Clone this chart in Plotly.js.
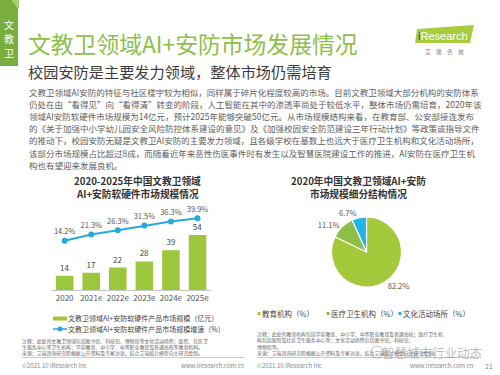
<!DOCTYPE html>
<html><head><meta charset="utf-8">
<script src="https://cdn.plot.ly/plotly-3.0.1.min.js"></script>
<style>html,body{margin:0;padding:0;background:#fff}#chart{width:500px;height:375px}</style>
</head><body><div id="chart"></div><script>
// ---- data ----
const years = ['2020','2021e','2022e','2023e','2024e','2025e'];
const marketSize = [14,17,22,28,39,54];
const growthRate = [14.2,21.3,26.3,31.5,36.3,39.9];
const barSeriesName = '文教卫领域AI+安防软硬件产品市场规模（亿元）';
const lineSeriesName = '文教卫领域AI+安防软硬件产品市场规模增速（%）';
const pieLabels = ['教育机构（%）','医疗卫生机构（%）','文化活动场所（%）'];
const pieValues = [82.2,11.1,6.7];

// ---- texts ----
const sideTab = ['文','教','卫'];
const mainTitle = '文教卫领域AI+安防市场发展情况';
const subTitle = '校园安防是主要发力领域，整体市场仍需培育';
const paragraph = [
 '文教卫领域AI安防的特征与社区楼宇较为相似，同样属于碎片化程度较高的市场。目前文教卫领域大部分机构的安防体系',
 '仍处在由“看得见”向“看得清”转变的阶段，人工智能在其中的渗透率尚处于较低水平，整体市场仍需培育，2020年该',
 '领域AI安防软硬件市场规模为14亿元，预计2025年能够突破50亿元。从市场规模结构来看，在教育部、公安部接连发布',
 '的《关于加强中小学幼儿园安全风险防控体系建设的意见》及《加强校园安全防范建设三年行动计划》等政策或指导文件',
 '的推动下，校园安防无疑是文教卫AI安防的主要发力领域，且各级学校在基数上也远大于医疗卫生机构和文化活动场所，',
 '该部分市场规模占比超过8成，而随着近年来恶性伤医事件时有发生以及智慧医院建设工作的推进，AI安防在医疗卫生机',
 '构也有望迎来发展良机。'
];
const leftChartTitle = ['2020-2025年中国文教卫领域','AI+安防软硬件市场规模情况'];
const rightChartTitle = ['2020年中国文教卫领域AI+安防','市场规模细分结构情况'];
const leftNotes = [
 '注释：此处的文教卫领域包括图书馆、科技馆、博物馆等文化活动场所；医院、社区卫',
 '生服务中心等卫生机构；学前教育、中小学、中等职业教育及普通高校等教育机构。',
 '来源：艾瑞咨询研究院根据公开资料及专家访谈，结合艾瑞统计模型自主研究绘制。'
];
const rightNotes = [
 '注释：此处的教育机构包括学前教育、中小学、中等职业教育及普通高校；医疗卫生机',
 '构包括医院及社区卫生服务中心等；文化活动场所包括图书馆、科技馆、',
 '博物馆等。',
 '来源：艾瑞咨询研究院根据公开资料及专家访谈，结合艾瑞统计模型自主研究绘制。'
];
const copyright = '©2021.10 iResearch Inc';
const website = 'www.iresearch.com.cn';
const pageNo = '21';
const watermark = '智慧城市行业动态';

// ---- styling ----
const W = 500, H = 375;
const fx = x => x / W, fy = y => 1 - y / H;
const CJK = '"Noto Sans CJK SC", "Noto Sans", sans-serif';
const GREEN = '#9CC63C', BLUE = '#27A9D9';
const pieColors = ['#A3C93B', '#8DBE45', '#22B4E6'];

const ann = [];
function T(text, x, y, size, color, anchor, extra) {
  ann.push(Object.assign({text: text, xref: 'paper', yref: 'paper', x: fx(x), y: fy(y),
    xanchor: anchor || 'left', yanchor: 'middle', showarrow: false, borderpad: 0, borderwidth: 0,
    font: {family: CJK, size: size, color: color}}, extra || {}));
}
const shapes = [];
function P(x, y) { return fx(x) + ',' + fy(y); }

// side tab
shapes.push({type: 'path', xref: 'paper', yref: 'paper', line: {width: 0}, fillcolor: '#79AE3F',
  path: 'M' + P(0,0) + ' L' + P(12,0) + ' L' + P(18,8) + ' L' + P(18,66) + ' L' + P(0,66) + ' Z'});
shapes.push({type: 'path', xref: 'paper', yref: 'paper', line: {width: 0}, fillcolor: '#A9D06E',
  path: 'M' + P(12,0) + ' L' + P(19,0) + ' L' + P(19,9) + ' L' + P(18,8) + ' Z'});
sideTab.forEach((c, i) => T(c, 9, 25 + i * 14, 10, '#ffffff', 'center'));

// titles
T(mainTitle, 28, 43, 22.8, '#8CC04A');
T(subTitle, 28, 71, 15.2, '#3c3c3c');

// logo
shapes.push({type: 'path', xref: 'paper', yref: 'paper', line: {width: 0}, fillcolor: '#A8CD3A',
  path: 'M' + P(417,29) + ' L' + P(474,25) + ' L' + P(470,43) + ' L' + P(415,43) + ' Z'});
T('<span style="color:#1d4f91">i</span>Research', 443, 35.5, 11, '#ffffff', 'center', {font: {family: 'Liberation Sans, sans-serif', size: 11, color: '#ffffff'}});
T('艾　瑞　咨　询', 444, 52, 5.5, '#777', 'center');

// paragraph
paragraph.forEach((l, i) => T(l, 29, 92 + i * 12.1, 8.5, '#5e5e5e'));

// chart titles
leftChartTitle.forEach((l, i) => T('<b>' + l + '</b>', 137, 180.5 + i * 13.5, 9.7, '#333', 'center'));
rightChartTitle.forEach((l, i) => T('<b>' + l + '</b>', 358, 180.5 + i * 13.5, 9.7, '#333', 'center'));

// left legend (manual)
shapes.push({type: 'rect', xref: 'paper', yref: 'paper', x0: fx(53), x1: fx(67), y0: fy(316.5), y1: fy(320.5), fillcolor: GREEN, line: {width: 0}});
T(barSeriesName, 68, 318.3, 7, '#444');
shapes.push({type: 'line', xref: 'paper', yref: 'paper', x0: fx(53), x1: fx(67), y0: fy(329), y1: fy(329), line: {color: BLUE, width: 1.5}});
shapes.push({type: 'circle', xref: 'paper', yref: 'paper', x0: fx(57.5), x1: fx(62.5), y0: fy(326.5), y1: fy(331.5), fillcolor: BLUE, line: {width: 0}});
T(lineSeriesName, 68, 329.3, 7, '#444');

// pie legend (manual)
const pieLegendX = [259, 328, 400];
pieLabels.forEach((l, i) => {
  shapes.push({type: 'rect', xref: 'paper', yref: 'paper', x0: fx(pieLegendX[i] - 1.5), x1: fx(pieLegendX[i] + 1.5), y0: fy(312), y1: fy(315), fillcolor: pieColors[i], line: {width: 0}});
  T(l, pieLegendX[i] + 3, 313.5, 7.5, '#444');
});

// notes
leftNotes.forEach((l, i) => T(l, 22, 340.5 + i * 6.4, 4.9, '#666'));
rightNotes.forEach((l, i) => T(l, 257, 334 + i * 6.4, 4.9, '#666'));

// footer separators and texts
shapes.push({type: 'line', xref: 'paper', yref: 'paper', x0: fx(22), x1: fx(245), y0: fy(357.5), y1: fy(357.5), line: {color: '#aaa', width: 0.6}});
shapes.push({type: 'line', xref: 'paper', yref: 'paper', x0: fx(257), x1: fx(478), y0: fy(357.5), y1: fy(357.5), line: {color: '#aaa', width: 0.6}});
T(copyright, 22, 365.5, 6, '#888');
T(website, 245, 365.5, 6, '#888', 'right');
T(copyright, 257, 365.5, 6, '#888');
T(website, 474, 365.5, 6, '#888', 'right');
T(pageNo, 489, 365.5, 7, '#888', 'center');

// watermark (overlays the notes, as in the reference)
T(watermark, 432, 352, 12.5, 'rgba(120,120,120,0.5)', 'center');
shapes.push({type: 'circle', xref: 'paper', yref: 'paper', x0: fx(371), x1: fx(383), y0: fy(346), y1: fy(358), fillcolor: 'rgba(0,0,0,0)', line: {color: 'rgba(120,120,120,0.5)', width: 1}});

// ---- traces ----
const traces = [
  {type: 'bar', x: years, y: marketSize, name: barSeriesName, xaxis: 'x', yaxis: 'y',
   marker: {color: GREEN}, text: marketSize.map(String), textposition: 'outside', cliponaxis: false,
   textfont: {family: CJK, size: 8, color: '#444'}, showlegend: false, hoverinfo: 'skip'},
  {type: 'scatter', mode: 'lines+markers+text', x: years, y: growthRate, name: lineSeriesName,
   xaxis: 'x', yaxis: 'y2', line: {color: BLUE, width: 2}, marker: {color: BLUE, size: 6},
   text: growthRate.map(v => v.toFixed(1) + '%'), textposition: 'top center', cliponaxis: false,
   textfont: {family: CJK, size: 7.5, color: '#555'}, showlegend: false, hoverinfo: 'skip'},
  {type: 'pie', labels: pieLabels, values: pieValues, sort: false, direction: 'clockwise', rotation: 0,
   domain: {x: [fx(331.5), fx(401.5)], y: [fy(287), fy(217)]},
   marker: {colors: pieColors, line: {color: '#ffffff', width: 1.2}},
   texttemplate: '%{value:.1f}%', textposition: 'outside', automargin: false,
   textfont: {family: CJK, size: 7.5, color: '#555'}, showlegend: false, hoverinfo: 'skip'}
];

const layout = {
  width: W, height: H, autosize: false,
  margin: {l: 0, r: 0, t: 0, b: 0},
  paper_bgcolor: '#ffffff', plot_bgcolor: 'rgba(0,0,0,0)',
  showlegend: false, bargap: 0.34,
  font: {family: CJK},
  xaxis: {domain: [fx(51.4), fx(210.8)], type: 'category', showgrid: false, zeroline: false,
    showline: true, linecolor: '#c8c8c8', linewidth: 1, ticks: '', ticklen: 0,
    tickfont: {family: CJK, size: 8, color: '#555'}, anchor: 'y', fixedrange: true},
  yaxis: {domain: [fy(290), fy(204)], range: [0, 84.3], visible: false, fixedrange: true},
  yaxis2: {domain: [fy(290), fy(204)], overlaying: 'y', range: [-42.4, 56.3], visible: false, fixedrange: true},
  annotations: ann,
  shapes: shapes
};
Plotly.newPlot('chart', traces, layout, {displayModeBar: false, staticPlot: true});
</script></body></html>
